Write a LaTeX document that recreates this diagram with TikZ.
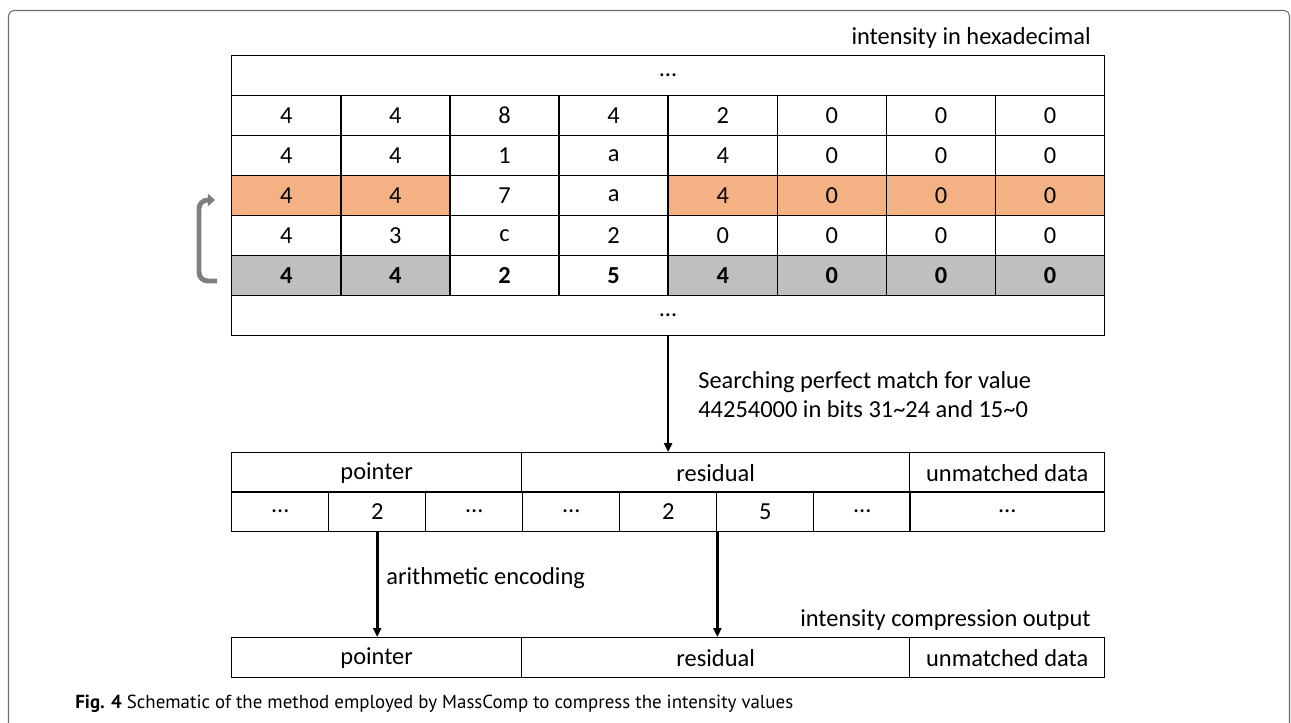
\documentclass[tikz,border=0pt]{standalone}
\usepackage{fontspec}
\setmainfont{Carlito}
\newfontfamily\captionfont{PT Sans}
\usepackage{xcolor}
\usetikzlibrary{arrows.meta}
\definecolor{hexorange}{HTML}{F4B183}
\definecolor{hexgray}{HTML}{BFBFBF}
\definecolor{bracketgray}{HTML}{7F7F7F}
\definecolor{framegray}{HTML}{6E6E6E}
\newcommand\cellfont{\fontsize{13.9}{16.5}\selectfont}

\tikzset{
  cell/.style={draw,line width=0.8pt,inner sep=0pt,minimum height=0.8cm,anchor=north west,font=\cellfont},
  hexcell/.style={cell,minimum width=2.1825cm},
  flow/.style={line width=1.5pt,-{Triangle[length=5pt,width=4.5pt]}},
  label/.style={inner sep=0pt,font=\cellfont}
}

\begin{document}
\begin{tikzpicture}[x=0.02cm,y=-0.02cm]
\useasboundingbox (0,0) rectangle (1291,723);
\draw[framegray,line width=0.6pt,rounded corners=3pt](8.5,723)--(8.5,10.5)--(1289.5,10.5)--(1289.5,723);

% intensity table
\node[label,anchor=east] (hexhead) at (1091,38) {intensity in hexadecimal};
\node[cell,minimum width=17.46cm] (dotst) at (231,55) {…};
\foreach \r/\vals in {1/{4,4,8,4,2,0,0,0},2/{4,4,1,a,4,0,0,0},4/{4,3,c,2,0,0,0,0}}
  \foreach \v [count=\c] in \vals
    \node[hexcell] (r\r c\c) at ({231+109.125*(\c-1)},{95+40*(\r-1)}) {\v};
\foreach \v/\f [count=\c] in {4/hexorange,4/hexorange,7/white,a/white,4/hexorange,0/hexorange,0/hexorange,0/hexorange}
  \node[hexcell,fill=\f] (r3c\c) at ({231+109.125*(\c-1)},175) {\v};
\foreach \v/\f [count=\c] in {4/hexgray,4/hexgray,2/white,5/white,4/hexgray,0/hexgray,0/hexgray,0/hexgray}
  \node[hexcell,fill=\f,font=\cellfont\bfseries] (r5c\c) at ({231+109.125*(\c-1)},255) {\v};
\node[cell,minimum width=17.46cm] (dotsb) at (231,295) {…};

% query row points back to the match
\coordinate (qry) at (217,281);
\coordinate (hit) at (215,200);
\draw[bracketgray,line width=2.8pt,rounded corners=5pt,-{Triangle[length=4pt,width=7pt]}](qry)--(199,281)--(199,200)--(hit);

% match result
\node[cell,minimum width=5.8cm] (mpointer) at (231,452) {pointer};
\node[cell,minimum width=7.76cm] (mres) at (521,452) {residual};
\node[cell,minimum width=3.9cm] (mrest) at (909,452) {unmatched data};
\foreach \v [count=\c] in {…,2,…,…,2,5,…}
  \node[cell,minimum width=1.94cm] (m\c) at ({231+97*(\c-1)},491) {\v};
\node[cell,minimum width=3.9cm] (mdots) at (909,491) {…};

\draw[flow](dotsb.south)--(dotsb.south|-mres.north);
\node[label,anchor=west,align=left] (searchlbl) at (698,395) {Searching perfect match for value\\44254000 in bits 31\textasciitilde24 and 15\textasciitilde0};

% output
\node[label,anchor=east] (outhead) at (1091,620) {intensity compression output};
\node[cell,minimum width=5.8cm] (opointer) at (231,637) {pointer};
\node[cell,minimum width=7.76cm] (ores) at (521,637) {residual};
\node[cell,minimum width=3.9cm] (orest) at (909,637) {unmatched data};

\draw[flow](m2.south)--(m2.south|-opointer.north);
\draw[flow](m5.south east)--(m5.south east|-ores.north);
\node[label,anchor=west] (enclbl) at (386,578) {arithmetic encoding};

\node[anchor=west,inner sep=0pt,font=\captionfont\fontsize{10.75}{12}\selectfont] (caption) at (75,704)
  {\textbf{Fig. 4} Schematic of the method employed by MassComp to compress the intensity values};
\end{tikzpicture}
\end{document}
